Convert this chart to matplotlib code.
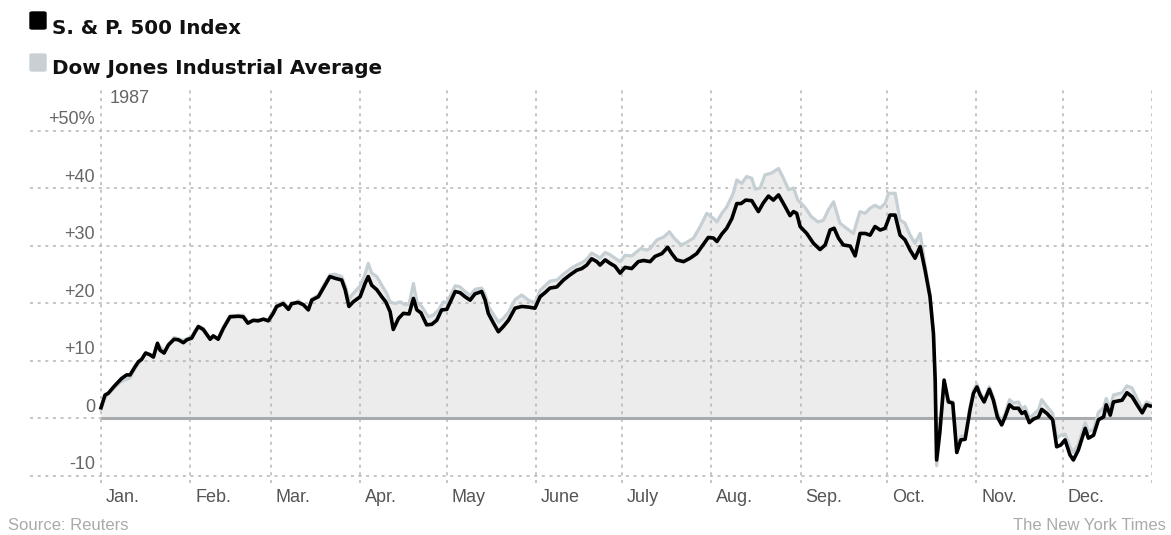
import matplotlib
matplotlib.use("Agg")
import matplotlib.pyplot as plt
from matplotlib.patches import FancyBboxPatch

plt.rcParams['font.family'] = ['Liberation Sans', 'DejaVu Sans']

# day of year (0 = Jan 1) and % change since start of 1987
sp_day = [0.0, 1.4, 2.5, 4.9, 7.2, 8.9, 10.1, 11.8, 13.0, 14.1, 15.5, 17.0, 18.2, 19.6, 20.5,
          21.9, 23.4, 25.4, 26.9, 28.6, 29.8, 31.5, 32.7, 33.8, 35.5, 37.9, 39.0, 40.7, 42.5,
          44.8, 47.7, 49.4, 51.0, 52.9, 54.6, 56.4, 58.1, 59.8, 61.0, 63.3, 65.1, 66.2, 68.5,
          70.3, 72.0, 73.2, 75.5, 77.2, 79.5, 81.3, 83.6, 84.8, 86.1, 87.6, 90.0, 91.7, 92.8,
          94.0, 95.8, 97.5, 98.9, 100.4, 101.5, 103.3, 105.0, 107.0, 108.5, 109.7, 111.1,
          113.1, 114.9, 116.6, 118.3, 120.1, 123.0, 124.7, 126.4, 128.2, 129.9, 132.2, 133.4,
          134.5, 136.3, 138.0, 139.7, 141.5, 143.8, 146.1, 148.4, 150.7, 152.5, 154.2, 155.9,
          158.3, 160.6, 162.9, 165.2, 167.0, 168.7, 170.4, 172.2, 173.3, 175.1, 176.8, 178.5,
          180.3, 182.0, 184.3, 186.6, 188.4, 190.7, 192.4, 194.8, 196.8, 198.2, 199.9, 202.3,
          204.6, 206.9, 208.6, 210.9, 212.7, 213.9, 215.6, 217.3, 219.1, 220.8, 222.3, 223.9,
          226.0, 228.3, 230.0, 231.8, 233.5, 235.3, 237.0, 239.3, 240.5, 241.6, 242.8, 245.1,
          247.4, 249.7, 251.5, 253.2, 254.6, 256.1, 257.8, 260.2, 261.9, 263.6, 265.4, 267.1,
          268.8, 270.6, 272.3, 274.0, 275.8, 277.5, 279.2, 281.0, 282.7, 284.5, 286.2, 287.9,
          289.1, 289.7, 290.2, 291.3, 292.8, 294.3, 295.8, 297.2, 298.6, 300.1, 301.8, 303.0,
          304.2, 305.3, 306.7, 308.5, 309.9, 311.3, 312.8, 314.0, 315.5, 316.9, 318.6, 319.8,
          320.9, 322.4, 323.8, 325.6, 326.7, 328.5, 330.5, 331.9, 333.3, 334.8, 336.5, 337.7,
          339.4, 341.8, 342.9, 344.7, 346.4, 348.2, 349.1, 350.5, 351.6, 354.6, 356.3, 358.1,
          359.8, 361.6, 363.1, 364.4]
sp_val = [1.8, 4.0, 4.3, 5.7, 6.9, 7.5, 7.5, 8.9, 9.8, 10.2, 11.3, 11.0, 10.6, 13.0, 11.8,
          11.3, 12.7, 13.7, 13.6, 13.1, 13.6, 13.9, 15.0, 15.9, 15.4, 13.7, 14.3, 13.7, 15.6,
          17.6, 17.7, 17.6, 16.5, 17.0, 16.9, 17.2, 16.9, 18.2, 19.4, 19.9, 18.9, 19.9, 20.1,
          19.7, 18.8, 20.5, 21.1, 22.6, 24.6, 24.3, 24.0, 22.3, 19.4, 20.2, 21.1, 23.4, 24.6,
          23.1, 22.3, 21.1, 20.2, 18.5, 15.4, 17.3, 18.2, 18.1, 20.8, 18.8, 18.3,
          16.2, 16.3, 17.0, 18.8, 18.9, 22.0, 21.8, 21.1, 20.5, 21.6, 22.0, 20.5,
          18.2, 16.5, 15.0, 15.9, 17.0, 19.1, 19.4, 19.3, 19.1, 21.1, 21.8, 22.6,
          22.8, 24.0, 24.9, 25.7, 26.0, 26.6, 27.7, 27.2, 26.6, 27.5, 26.9, 26.4,
          25.2, 26.2, 26.0, 27.2, 27.4, 27.2, 28.1, 28.6, 29.7, 28.6, 27.5, 27.2,
          27.8, 28.6, 29.8, 31.4, 31.3, 30.7, 32.0, 33.0, 34.7, 37.3, 37.3, 37.9,
          37.8, 35.9, 37.4, 38.6, 37.9, 38.8, 37.3, 35.2, 35.9, 35.6, 33.3, 32.1,
          30.4, 29.3, 30.1, 32.7, 33.0, 31.3, 30.1, 29.9, 28.2, 32.1, 32.1, 31.8,
          33.3, 32.7, 33.0, 35.3, 35.3, 31.8, 31.0, 29.2, 27.8, 29.8, 25.7, 21.1,
          14.7, 6.6, -7.3, -2.5, 6.6, 2.8, 2.6, -6.0, -3.8, -3.7, 1.4, 4.3,
          5.4, 4.0, 2.8, 5.0, 3.1, 0.2, -1.2, 0.2, 2.3, 1.7, 1.7, 0.8,
          1.1, -0.8, -0.2, 0.2, 1.5, 0.8, -0.3, -5.0, -4.7, -3.8, -6.4, -7.3,
          -5.6, -1.8, -3.5, -3.0, -0.3, 0.2, 2.3, 0.5, 2.8, 3.1, 4.4, 3.7,
          2.3, 0.9, 2.3, 2.1]

dj_day = [0.0, 1.4, 4.9, 7.2, 10.1, 11.8, 14.1, 15.5, 18.2, 19.6, 21.9, 23.4, 25.4, 28.6,
          31.5, 33.8, 35.5, 37.9, 40.7, 42.5, 44.8, 49.4, 51.0, 54.6, 58.1, 61.0, 63.3, 65.1,
          68.5, 72.0, 73.2, 75.5, 77.2, 79.5, 81.3, 83.6, 84.8, 86.1, 87.1, 88.8, 90.0, 91.7,
          92.8, 94.0, 95.8, 97.5, 99.2, 100.4, 102.1, 103.9, 105.6, 107.0, 108.5, 109.7,
          111.4, 113.7, 115.4, 117.2, 118.9, 120.1, 123.0, 124.7, 126.4, 128.2, 129.9, 132.2,
          133.4, 134.5, 136.3, 138.0, 139.7, 141.5, 143.8, 146.1, 148.4, 150.7, 152.5, 154.2,
          155.9, 158.3, 160.6, 162.9, 165.2, 167.0, 168.7, 170.4, 172.2, 173.3, 175.1, 176.8,
          178.5, 180.3, 182.0, 184.3, 187.5, 189.5, 190.7, 193.1, 195.5, 197.4, 199.0, 201.5,
          202.9, 205.8, 208.1, 210.4, 212.7, 213.9, 215.6, 217.3, 219.6, 220.8, 222.5, 224.2,
          226.0, 227.2, 228.9, 230.6, 232.9, 235.3, 237.0, 238.8, 240.5, 242.0, 244.4, 246.7,
          249.0, 250.9, 252.6, 254.4, 256.6, 258.9, 261.3, 263.6, 265.4, 267.1, 268.8, 270.6,
          272.3, 273.5, 275.8, 277.5, 279.2, 281.0, 282.7, 284.5, 286.2, 287.9, 289.1, 289.7,
          290.2, 291.3, 292.8, 294.3, 295.8, 297.2, 298.6, 300.1, 301.8, 303.0, 304.2, 305.3,
          306.7, 308.5, 309.9, 311.3, 312.8, 314.0, 315.5, 316.9, 318.6, 319.8, 320.9, 322.4,
          323.8, 325.6, 326.7, 328.5, 330.5, 331.9, 333.3, 334.8, 336.5, 337.7, 339.4, 341.8,
          342.9, 344.7, 346.4, 348.2, 349.1, 350.5, 351.6, 354.6, 356.3, 358.1, 359.8, 361.6,
          363.1, 364.4]
dj_val = [1.5, 3.6, 5.4, 6.4, 7.0, 8.6, 10.2, 11.4, 10.8, 13.0, 11.6, 12.8, 14.0, 13.5,
          14.2, 16.0, 15.6, 13.9, 13.9, 15.8, 17.8, 17.9, 16.7, 17.1, 17.1, 19.6, 20.2, 19.2,
          20.4, 19.0, 20.7, 21.4, 23.0, 24.9, 25.0, 24.6, 23.0, 20.6, 21.4, 22.3, 23.0, 25.0,
          26.9, 25.2, 24.6, 23.1, 21.7, 20.2, 19.9, 20.2, 19.7, 19.8, 23.4, 20.2,
          19.4, 17.6, 17.9, 18.8, 20.2, 20.0, 23.0, 22.8, 22.0, 21.3, 22.4, 22.6,
          21.5, 19.5, 18.0, 16.7, 17.3, 18.4, 20.6, 21.4, 20.5, 20.0, 22.2, 23.0,
          23.8, 24.0, 25.0, 25.9, 26.6, 27.0, 27.6, 28.7, 28.2, 27.8, 28.8, 28.4,
          27.8, 27.2, 28.3, 28.2, 29.5, 29.2, 29.5, 31.0, 31.5, 32.4, 31.3, 30.1,
          30.4, 31.3, 33.3, 35.6, 34.7, 34.1, 35.6, 36.7, 39.1, 41.4, 40.8, 42.0,
          41.7, 39.8, 40.0, 42.3, 42.6, 43.4, 41.7, 39.7, 40.0, 37.9, 36.7, 35.0,
          34.1, 34.4, 36.2, 37.6, 33.9, 33.0, 32.1, 35.9, 35.6, 36.5, 37.0, 36.5,
          37.3, 39.1, 39.1, 34.4, 33.9, 31.8, 30.4, 32.1, 26.5, 21.5, 14.5, 6.0,
          -8.3, -3.0, 6.2, 3.0, 2.8, -5.5, -3.2, -3.0, 2.0, 4.8, 5.9, 4.4,
          3.2, 5.4, 3.6, 0.8, -0.6, 0.8, 3.2, 2.6, 2.8, 1.6, 2.0, 0.0,
          0.6, 1.4, 3.2, 2.0, 0.8, -3.5, -3.0, -2.8, -5.0, -6.0, -4.6, -0.8,
          -2.4, -2.0, 1.0, 1.8, 3.4, 1.6, 4.0, 4.4, 5.6, 5.2, 3.4, 1.6,
          2.8, 2.5]

month_start = [0, 31, 59, 90, 120, 151, 181, 212, 243, 273, 304, 334, 365]
month_names = ['Jan.', 'Feb.', 'Mar.', 'Apr.', 'May', 'June', 'July', 'Aug.', 'Sep.',
               'Oct.', 'Nov.', 'Dec.']
y_ticks = [50, 40, 30, 20, 10, 0, -10]
y_labels = ['+50%', '+40', '+30', '+20', '+10', '0', '-10']

fig = plt.figure(figsize=(11.71, 5.35), dpi=100)
ax = fig.add_axes([30 / 1171, 52 / 535, 1122 / 1171, 396 / 535])
ax.set_xlim(-24.66, 365)
ax.set_ylim(-11.3, 57.57)
ax.axis('off')

grid_kw = dict(color='#b5b5b5', lw=1.1, ls=(0, (2, 3)), zorder=2)
for v in y_ticks:
    ax.plot([-24.66, 365], [v, v], **grid_kw)
for d in month_start:
    ax.axvline(d, **grid_kw)

ax.fill_between(dj_day, dj_val, 0, color='#ececec', lw=0, zorder=1)
ax.hlines(0, 0, 365, color='#a7abae', lw=2.2, zorder=3)
ax.plot(dj_day, dj_val, color='#c6cfd4', lw=2.3, zorder=4, solid_joinstyle='round')
ax.plot(sp_day, sp_val, color='#000000', lw=2.6, zorder=5, solid_joinstyle='round')

for v, lab in zip(y_ticks, y_labels):
    ax.text(-2.1, v + 1.9, lab, ha='right', va='center', fontsize=13, color='#666666')
ax.text(3.1, 55.65, '1987', ha='left', va='center', fontsize=13, color='#666666')

for d, name in zip(month_start[:-1], month_names):
    ax.text(d + 1.7, -13.9, name, ha='left', va='center', fontsize=13,
            color='#555555', clip_on=False)

# legend
fig.add_artist(FancyBboxPatch((30 / 1171, 506 / 535), 16 / 1171, 17 / 535,
                              boxstyle='round,pad=0,rounding_size=0.002',
                              transform=fig.transFigure, color='#000000'))
fig.add_artist(FancyBboxPatch((30 / 1171, 464 / 535), 16 / 1171, 17 / 535,
                              boxstyle='round,pad=0,rounding_size=0.002',
                              transform=fig.transFigure, color='#c8d0d5'))
fig.text(52 / 1171, 1 - 28 / 535, 'S. & P. 500 Index', fontsize=14.3, fontweight='bold',
         family='DejaVu Sans', va='center', ha='left', color='#111111')
fig.text(52 / 1171, 1 - 68 / 535, 'Dow Jones Industrial Average', fontsize=14.3,
         fontweight='bold', family='DejaVu Sans', va='center', ha='left', color='#111111')

fig.text(8 / 1171, 1 - 526 / 535, 'Source: Reuters', fontsize=12, color='#aaaaaa',
         va='center', ha='left')
fig.text(1166 / 1171, 1 - 526 / 535, 'The New York Times', fontsize=12,
         color='#aaaaaa', va='center', ha='right')

fig.savefig('out.png', dpi=100)
